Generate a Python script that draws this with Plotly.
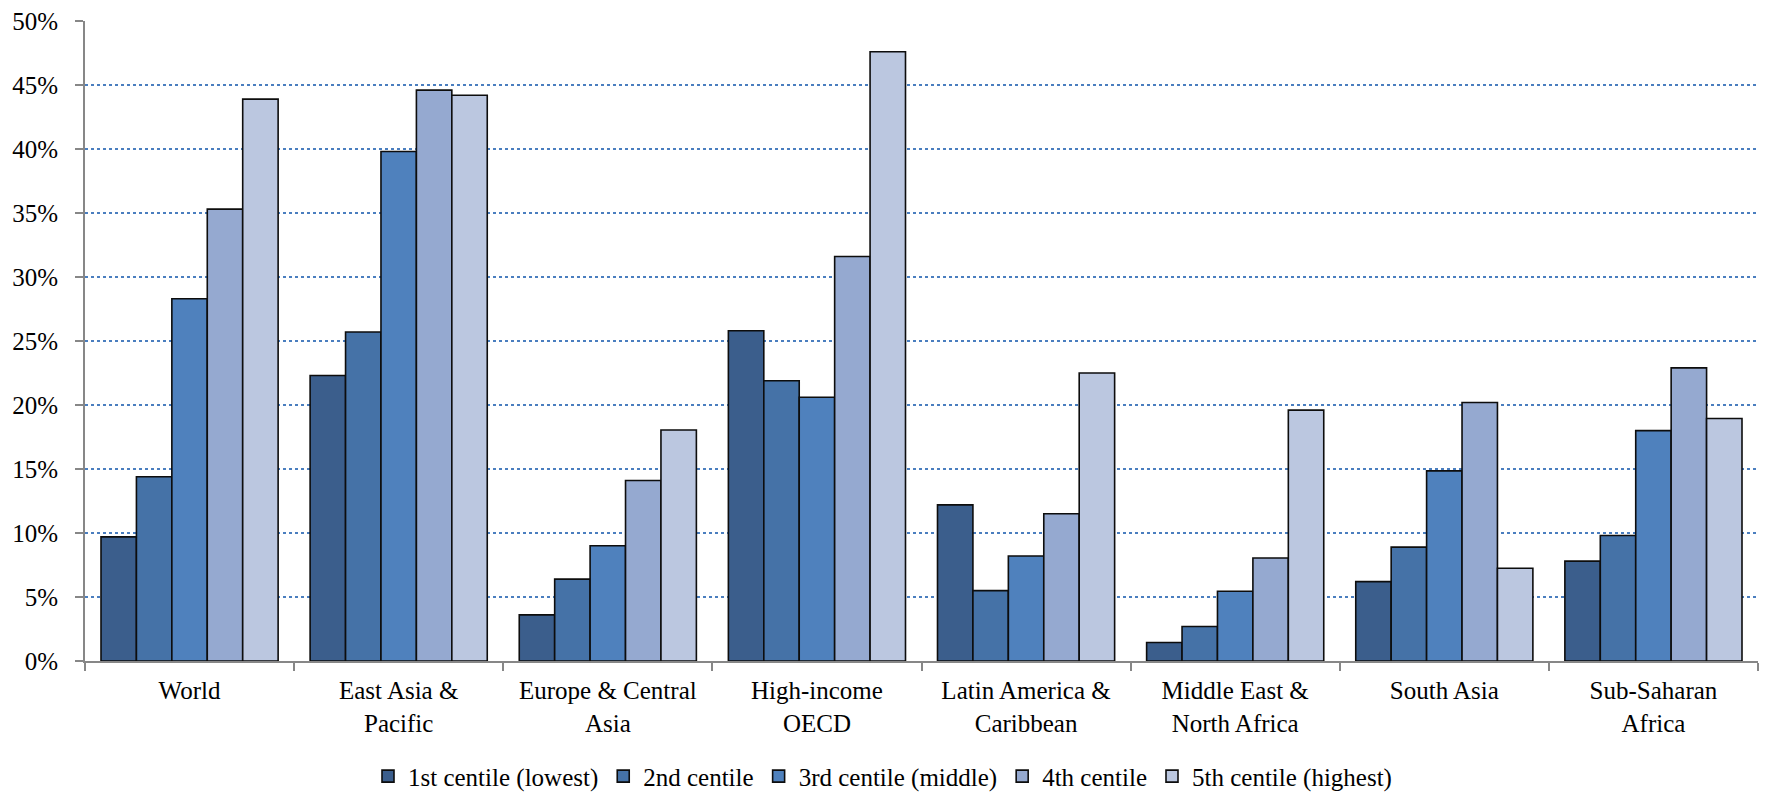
import plotly.graph_objects as go

regions = [
    "World",
    "East Asia &<br>Pacific",
    "Europe & Central<br>Asia",
    "High-income<br>OECD",
    "Latin America &<br>Caribbean",
    "Middle East &<br>North Africa",
    "South Asia",
    "Sub-Saharan<br>Africa",
]

series_names = [
    "1st centile (lowest)",
    "2nd centile",
    "3rd centile (middle)",
    "4th centile",
    "5th centile (highest)",
]

# Share (%) for each income centile, by region
centile_1 = [9.7, 22.3, 3.6, 25.8, 12.2, 1.45, 6.2, 7.8]
centile_2 = [14.4, 25.7, 6.4, 21.9, 5.5, 2.7, 8.9, 9.8]
centile_3 = [28.3, 39.8, 9.0, 20.6, 8.2, 5.45, 14.85, 18.0]
centile_4 = [35.3, 44.6, 14.1, 31.6, 11.5, 8.05, 20.2, 22.9]
centile_5 = [43.9, 44.2, 18.05, 47.6, 22.5, 19.6, 7.25, 18.95]

y_ticks = [0, 5, 10, 15, 20, 25, 30, 35, 40, 45, 50]
y_tick_labels = [f"{v}%" for v in y_ticks]

colors = ["#3b5e8c", "#4572a7", "#4f81bd", "#95a9d0", "#bbc7e0"]

fig = go.Figure()
for name, vals, col in zip(series_names,
                           [centile_1, centile_2, centile_3, centile_4, centile_5],
                           colors):
    fig.add_trace(go.Bar(
        name=name,
        x=regions,
        y=vals,
        marker=dict(color=col, line=dict(color="#0d0d0d", width=1.6)),
    ))

serif = "Liberation Serif"

fig.update_layout(
    width=1765,
    height=793,
    barmode="group",
    bargap=0.153,
    bargroupgap=0,
    plot_bgcolor="white",
    paper_bgcolor="white",
    margin=dict(l=85, r=7, t=21, b=132),
    font=dict(family=serif, size=25, color="black"),
    showlegend=True,
    legend=dict(
        orientation="h",
        x=0.5,
        xanchor="center",
        xref="container",
        yref="container",
        y=0.021,
        yanchor="middle",
        font=dict(family=serif, size=25, color="black"),
        itemwidth=30,
        tracegroupgap=0,
    ),
    xaxis=dict(
        showline=True,
        linecolor="#878787",
        linewidth=2,
        ticks="outside",
        tickson="boundaries",
        ticklen=8,
        tickcolor="#878787",
        tickwidth=2,
        showgrid=False,
        tickfont=dict(family=serif, size=25, color="black"),
        ticklabelstandoff=6,
    ),
    yaxis=dict(
        range=[0, 50],
        tickmode="array",
        tickvals=y_ticks,
        ticktext=y_tick_labels,
        showline=True,
        linecolor="#878787",
        linewidth=2,
        ticks="outside",
        ticklen=8,
        tickcolor="#878787",
        tickwidth=2,
        showgrid=True,
        gridcolor="#4a7ebf",
        gridwidth=1.5,
        griddash="dot",
        zeroline=False,
        tickfont=dict(family=serif, size=25, color="black"),
        ticklabelstandoff=12,
    ),
)

fig.write_html("out.html")
